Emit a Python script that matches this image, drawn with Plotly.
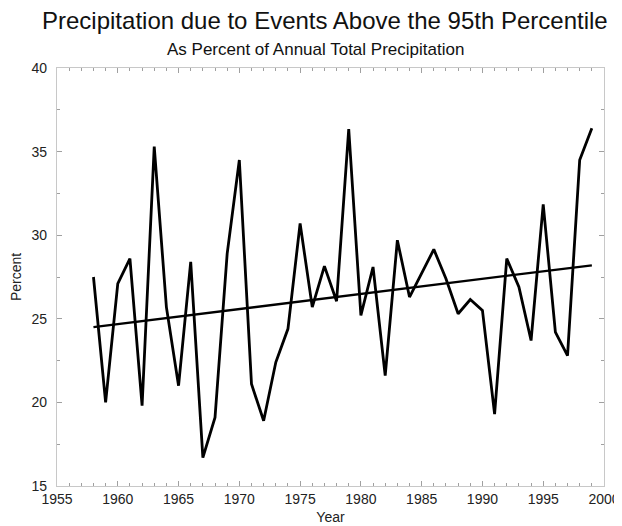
import plotly.graph_objects as go

years = list(range(1958, 2000))
percent = [27.5, 20.0, 27.1, 28.6, 19.8, 35.3, 25.7, 21.0, 28.4, 16.7,
           19.1, 28.9, 34.5, 21.1, 18.9, 22.4, 24.4, 30.7, 25.7, 28.15,
           26.05, 36.35, 25.2, 28.1, 21.6, 29.7, 26.3, 27.7, 29.15, 27.4,
           25.3, 26.15, 25.5, 19.3, 28.6, 26.9, 23.7, 31.85, 24.2, 22.8,
           34.5, 36.4]
trend_years = [1958, 1999]
trend_values = [24.5, 28.2]

x_ticks = [1955, 1960, 1965, 1970, 1975, 1980, 1985, 1990, 1995, 2000]
y_ticks = [15, 20, 25, 30, 35, 40]

font = "Liberation Sans, Arial, sans-serif"

fig = go.Figure()
fig.add_trace(go.Scatter(x=years, y=percent, mode="lines",
                         line=dict(color="black", width=2.8), showlegend=False))
fig.add_trace(go.Scatter(x=trend_years, y=trend_values, mode="lines",
                         line=dict(color="black", width=2.3), showlegend=False))

axis_common = dict(showgrid=False, zeroline=False, showline=True, linecolor="#c8c8c8",
                   linewidth=1.2, mirror="ticks", ticks="inside", ticklen=5,
                   tickcolor="#a0a0a0", tickwidth=1, automargin=False,
                   tickfont=dict(family=font, size=14, color="#222"))

fig.update_layout(
    width=614, height=518,
    margin=dict(l=49, r=18, t=60, b=40),
    paper_bgcolor="white", plot_bgcolor="white",
    annotations=[
        dict(text="Precipitation due to Events Above the 95th Percentile", xref="paper", yref="paper",
             x=0.49, y=1.0, yshift=48, xanchor="center", yanchor="middle", showarrow=False,
             font=dict(family=font, size=24, color="#111")),
        dict(text="As Percent of Annual Total Precipitation", xref="paper", yref="paper",
             x=0.472, y=1.0, yshift=19, xanchor="center", yanchor="middle", showarrow=False,
             font=dict(family=font, size=17, color="#111")),
    ],
    xaxis=dict(range=[1955, 2000], tickvals=x_ticks, ticktext=[str(v) for v in x_ticks],
               minor=dict(dtick=1, ticks="inside", ticklen=3, tickcolor="#a0a0a0"),
               ticklabelstandoff=0,
               title=dict(text="Year", font=dict(family=font, size=14, color="#222"), standoff=6),
               **axis_common),
    yaxis=dict(range=[15, 40], tickvals=y_ticks, ticktext=[str(v) for v in y_ticks],
               minor=dict(dtick=2.5, ticks="inside", ticklen=3, tickcolor="#a0a0a0"),
               ticklabelstandoff=6,
               title=dict(text="Percent", font=dict(family=font, size=14, color="#222"), standoff=6),
               **axis_common),
)

fig.write_html("out.html")
